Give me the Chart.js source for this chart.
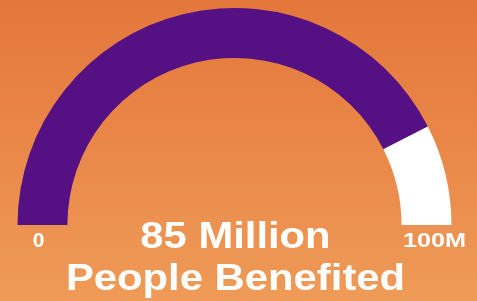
<!DOCTYPE html>
<html>
<head>
<meta charset="utf-8">
<script src="https://cdn.jsdelivr.net/npm/chart.js@4"></script>
<style>
  html, body { margin: 0; padding: 0; }
  body {
    width: 477px; height: 301px; overflow: hidden;
    background: linear-gradient(180deg, #e4773b 0%, #ea8a4a 55%, #ef9b57 100%);
  }
  #wrap { position: relative; width: 477px; height: 301px; }
</style>
</head>
<body>
<div id="wrap"><canvas id="gauge"></canvas></div>
<script>
// values in millions
const segments = ['Benefited', 'Remaining'];
const values = [85, 15];
const colors = ['#551183', '#ffffff'];
const minLabel = '0';
const maxLabel = '100M';
const headline = '85 Million';
const subline = 'People Benefited';

// text is a little wide in the source, so stretch it sideways
function wideText(ctx, text, x, y, size, stretch) {
  ctx.save();
  ctx.font = 'bold ' + size + 'px "Liberation Sans", Arial, sans-serif';
  ctx.translate(x, y);
  ctx.scale(stretch, 1);
  ctx.fillText(text, 0, 0);
  ctx.restore();
}

const gaugeText = {
  id: 'gaugeText',
  afterDraw(chart) {
    const arc = chart.getDatasetMeta(0).data[0];
    const { x, y } = arc;
    const ctx = chart.ctx;
    ctx.save();
    ctx.fillStyle = '#ffffff';
    ctx.textAlign = 'center';
    ctx.textBaseline = 'alphabetic';
    wideText(ctx, minLabel, x - 196, y + 22, 21, 1.0);
    wideText(ctx, maxLabel, x + 200, y + 22, 21, 1.2);
    wideText(ctx, headline, x + 1, y + 23, 36, 1.16);
    wideText(ctx, subline, x + 1, y + 65, 37, 1.13);
    ctx.restore();
  }
};

new Chart(document.getElementById('gauge'), {
  type: 'doughnut',
  data: {
    labels: segments,
    datasets: [{
      data: values,
      backgroundColor: colors,
      borderWidth: 0
    }]
  },
  options: {
    responsive: true,
    maintainAspectRatio: false,
    animation: false,
    rotation: -90,
    circumference: 180,
    cutout: '77%',
    layout: { padding: { left: 17, right: 25, top: 8, bottom: 76 } },
    plugins: {
      legend: { display: false },
      tooltip: { enabled: false }
    }
  },
  plugins: [gaugeText]
});
</script>
</body>
</html>
